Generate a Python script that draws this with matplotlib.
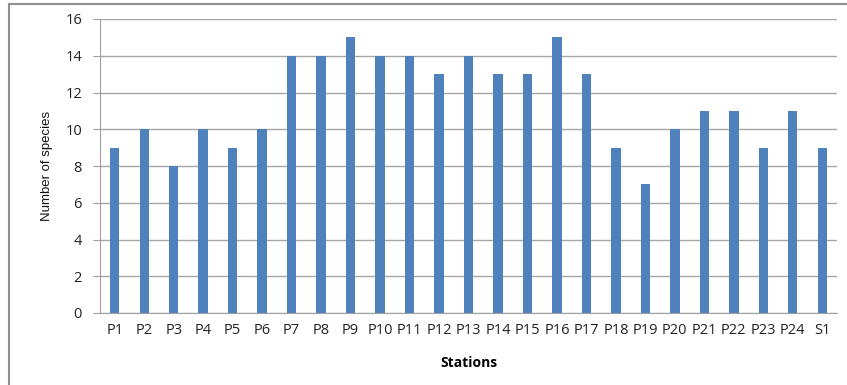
import matplotlib
matplotlib.use('Agg')
import matplotlib.pyplot as plt
from matplotlib.lines import Line2D
import numpy as np

stations = ['P1', 'P2', 'P3', 'P4', 'P5', 'P6', 'P7', 'P8', 'P9', 'P10',
            'P11', 'P12', 'P13', 'P14', 'P15', 'P16', 'P17', 'P18', 'P19',
            'P20', 'P21', 'P22', 'P23', 'P24', 'S1']
species = [9, 10, 8, 10, 9, 10, 14, 14, 15, 14, 14, 13, 14, 13, 13, 15, 13,
           9, 7, 10, 11, 11, 9, 11, 9]
yticks = [0, 2, 4, 6, 8, 10, 12, 14, 16]

plt.rcParams['font.family'] = ['Open Sans', 'DejaVu Sans']

fig = plt.figure(figsize=(8.47, 3.85), dpi=100)
ax = fig.add_axes([100/847, 1-313/385, 737/847, 294/385])

x = np.arange(len(stations))
ax.bar(x, species, width=0.32, color='#4F81BD', zorder=3)

ax.set_xlim(-0.5, len(stations)-0.5)
ax.set_ylim(0, 16)
ax.set_yticks(yticks)
ax.set_xticks(x)
ax.set_xticklabels(stations, fontsize=10.5, color='#222222')
ax.tick_params(axis='y', labelsize=10.5, colors='#222222', length=5, color='#a0a0a0', pad=8)
ax.tick_params(axis='x', length=0, pad=7)
ax.grid(axis='y', color='#a6a6a6', linewidth=1, zorder=0)

for s in ['top', 'right']:
    ax.spines[s].set_visible(False)
ax.spines['left'].set_color('#a0a0a0')
ax.spines['bottom'].set_color('#a0a0a0')

ax.set_ylabel('Number of species', fontsize=9.5, color='#111111',
              family=['Liberation Sans Narrow', 'Liberation Sans', 'DejaVu Sans'], labelpad=9)
ax.set_xlabel('Stations', fontsize=10, fontweight='bold', labelpad=13)

# outer chart border
fig.add_artist(Line2D([9/847, 9/847], [0, 1-4/385], transform=fig.transFigure, color='#909090', lw=1.5))
fig.add_artist(Line2D([9/847, 1], [1-4/385, 1-4/385], transform=fig.transFigure, color='#909090', lw=1.5))

fig.savefig('out.png', dpi=100)
